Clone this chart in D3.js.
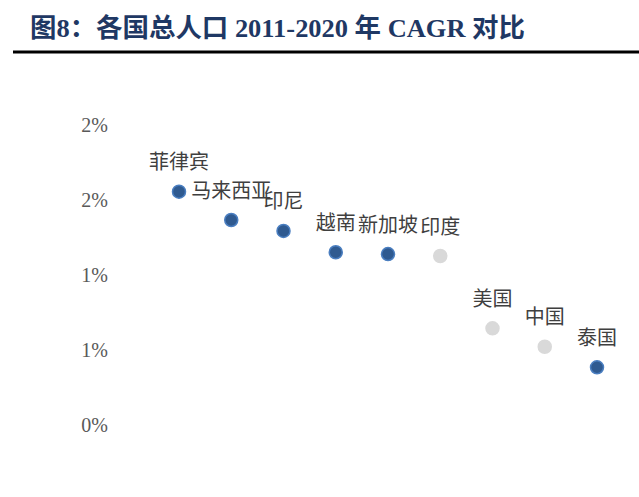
<!DOCTYPE html>
<html>
<head>
<meta charset="utf-8">
<script src="https://cdn.jsdelivr.net/npm/d3@7"></script>
<style>
  html, body { margin: 0; padding: 0; background: #fff; }
  svg { display: block; }
</style>
</head>
<body>
<svg id="chart" width="639" height="497"></svg>
<script>
// ---- data ----
const countries = ["菲律宾", "马来西亚", "印尼", "越南", "新加坡", "印度", "美国", "中国", "泰国"];
const cagr = [0.01559, 0.01370, 0.01297, 0.01155, 0.01143, 0.01130, 0.00648, 0.00525, 0.00388];
const asean = ["菲律宾", "马来西亚", "印尼", "越南", "新加坡", "泰国"];
const tickValues = [0, 0.005, 0.01, 0.015, 0.02];
const tickLabels = ["0%", "1%", "1%", "2%", "2%"];
const title = "图8：各国总人口 2011-2020 年 CAGR 对比";

const svg = d3.select("#chart");

// title
svg.append("text")
  .attr("x", 30).attr("y", 37)
  .attr("font-family", "'Liberation Serif', 'Noto Sans CJK SC', serif")
  .attr("font-weight", "bold")
  .attr("font-size", 26)
  .attr("fill", "#1F3864")
  .attr("textLength", 495)
  .attr("lengthAdjust", "spacingAndGlyphs")
  .text(title);

svg.append("rect")
  .attr("x", 13).attr("y", 50.5).attr("width", 626).attr("height", 3)
  .attr("fill", "#000");

// scales
const x = d3.scalePoint().domain(countries).range([179, 597]);
const y = d3.scaleLinear().domain([0, 0.02]).range([425.5, 125.5]);

// y axis
const yAxis = d3.axisLeft(y)
  .tickValues(tickValues)
  .tickSize(0)
  .tickPadding(0)
  .tickFormat((d, i) => tickLabels[i]);

const gy = svg.append("g").attr("transform", "translate(108,0)").call(yAxis);
gy.select(".domain").remove();
gy.selectAll("text")
  .attr("font-family", "'Liberation Serif', serif")
  .attr("font-size", 20)
  .attr("fill", "#595959");

const data = countries.map((c, i) => ({ c, v: cagr[i], blue: asean.includes(c) }));

// dots
svg.append("g").selectAll("circle")
  .data(data).join("circle")
  .attr("cx", d => x(d.c))
  .attr("cy", d => y(d.v))
  .attr("r", 6.5)
  .attr("fill", d => d.blue ? "#2F5A90" : "#D9D9D9")
  .attr("stroke", d => d.blue ? "#4A7EC0" : "#D9D9D9")
  .attr("stroke-width", 1.5);

// labels
svg.append("g").selectAll("text")
  .data(data).join("text")
  .attr("x", d => x(d.c))
  .attr("y", d => y(d.v) - 31)
  .attr("text-anchor", "middle")
  .attr("dominant-baseline", "central")
  .attr("font-family", "'Noto Sans CJK SC', sans-serif")
  .attr("font-size", 20)
  .attr("fill", "#3F3F3F")
  .text(d => d.c);
</script>
</body>
</html>
